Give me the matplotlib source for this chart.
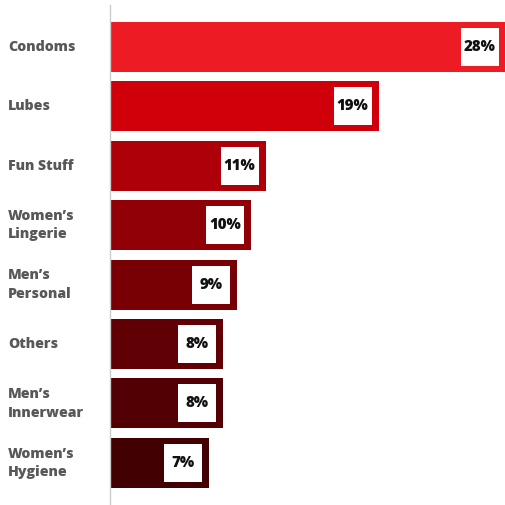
import matplotlib.pyplot as plt
from matplotlib.patches import Rectangle
from matplotlib.transforms import ScaledTranslation, blended_transform_factory

categories = ['Condoms', 'Lubes', 'Fun Stuff', 'Women\u2019s\nLingerie', 'Men\u2019s\nPersonal',
              'Others', 'Men\u2019s\nInnerwear', 'Women\u2019s\nHygiene']
shares = [28, 19, 11, 10, 9, 8, 8, 7]
bar_colors = ['#ED1C24', '#D0000A', '#AE0008', '#900006', '#780005', '#600004', '#520003', '#420002']

plt.rcParams['font.family'] = ['Open Sans', 'DejaVu Sans']

fig = plt.figure(figsize=(5.06, 5.05), dpi=100)
ax = fig.add_axes([110 / 506, 0, 396 / 506, 500 / 505])

positions = list(range(len(categories)))
ax.barh(positions, shares, height=0.84, color=bar_colors, edgecolor='none', zorder=2)
ax.set_xlim(0, 28.0)
ax.set_ylim(7.71, -0.707)

# white value boxes sitting at the end of each bar
box_w, box_h, gap = 0.38, 0.38, 0.07
for i, v in enumerate(shares):
    anchor = fig.dpi_scale_trans + ScaledTranslation(v, i, ax.transData)
    ax.add_patch(Rectangle((-gap - box_w, -box_h / 2), box_w, box_h, transform=anchor,
                           facecolor='white', edgecolor='none', zorder=3, clip_on=False))
    ax.text(-gap - box_w / 2, 0, f'{v}%', transform=anchor, ha='center', va='center',
            fontsize=10.8, fontweight='heavy', color='#111111', zorder=4)

label_trans = blended_transform_factory(fig.transFigure, ax.transData)
for i, name in enumerate(categories):
    ax.text(8 / 506, i, name, transform=label_trans, ha='left', va='center',
            fontsize=10.2, fontweight='heavy', color='#58585b', linespacing=1.4)

ax.set_xticks([])
ax.set_yticks([])
for side in ['top', 'right', 'bottom']:
    ax.spines[side].set_visible(False)
ax.spines['left'].set_color('#cccccc')
ax.spines['left'].set_linewidth(1)

fig.savefig('out.png', dpi=100)
